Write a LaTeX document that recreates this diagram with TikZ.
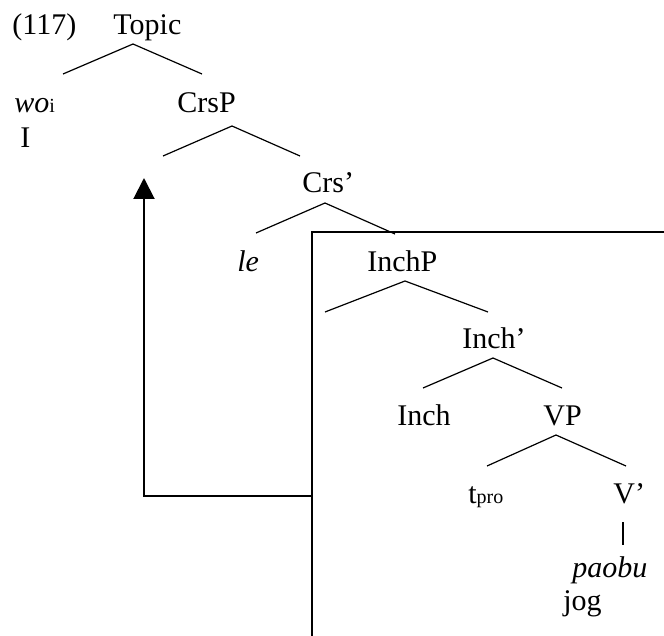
\documentclass[tikz,border=0pt]{standalone}
\usepackage{fontspec}
\setmainfont{Liberation Serif}
\usetikzlibrary{arrows.meta}
\newcommand{\subidx}[1]{{\fontsize{10}{12}\selectfont #1}}

\begin{document}
\begin{tikzpicture}[x=0.5pt,y=-0.5pt,
  lbl/.style={anchor=base west,inner sep=0pt,font=\fontsize{15}{18}\selectfont},
  branch/.style={line width=0.6pt},
  frame/.style={line width=1pt}]
\useasboundingbox (0,0) rectangle (664,636);
% labels
\node[lbl] (num) at (12,35) {(117)};
\node[lbl] (topic) at (113,35) {Topic};
\node[lbl] (wo) at (14,113) {\itshape wo\upshape\subidx{i}};
\node[lbl] (I) at (20,148) {I};
\node[lbl] (crsp) at (177,113) {CrsP};
\node[lbl] (crsbar) at (302,193) {Crs’};
\node[lbl] (le) at (237,272) {\itshape le};
\node[lbl] (inchp) at (367,272) {InchP};
\node[lbl] (inchbar) at (462,349) {Inch’};
\node[lbl] (inch) at (397,425) {Inch};
\node[lbl] (vp) at (543,425) {VP};
\node[lbl] (tpro) at (468,503) {t\subidx{pro}};
\node[lbl] (vbar) at (613,503) {V’};
\node[lbl] (paobu) at (572,577) {\itshape paobu};
\node[lbl] (jog) at (563,610) {jog};
% branch points
\coordinate (topic-a) at (133,44);
\coordinate (topic-l) at (63,74);
\coordinate (topic-r) at (202,74);
\coordinate (crsp-a) at (232,126);
\coordinate (crsp-l) at (163,156);
\coordinate (crsp-r) at (300,156);
\coordinate (crsbar-a) at (325,203);
\coordinate (crsbar-l) at (256,233);
\coordinate (crsbar-r) at (395,234);
\coordinate (inchp-a) at (405,281);
\coordinate (inchp-l) at (325,312);
\coordinate (inchp-r) at (488,312);
\coordinate (inchbar-a) at (493,358);
\coordinate (inchbar-l) at (423,388);
\coordinate (inchbar-r) at (562,388);
\coordinate (vp-a) at (556,435);
\coordinate (vp-l) at (487,466);
\coordinate (vp-r) at (626,466);
\coordinate (vbar-a) at (623,522);
\coordinate (vbar-b) at (623,545);
% tree
\draw[branch] (topic-l) -- (topic-a) -- (topic-r);
\draw[branch] (crsp-l) -- (crsp-a) -- (crsp-r);
\draw[branch] (crsbar-l) -- (crsbar-a) -- (crsbar-r);
\draw[branch] (inchp-l) -- (inchp-a) -- (inchp-r);
\draw[branch] (inchbar-l) -- (inchbar-a) -- (inchbar-r);
\draw[branch] (vp-l) -- (vp-a) -- (vp-r);
\draw[branch] (vbar-a) -- (vbar-b);
% box and movement
\coordinate (box-tl) at (312,232);
\coordinate (box-tr) at (664,232);
\coordinate (box-bl) at (312,636);
\coordinate (trace) at (312,496);
\coordinate (corner) at (144,496);
\coordinate (land) at (144,178);
\draw[frame] (box-tr) -- (box-tl) -- (box-bl);
\draw[frame,-{Triangle[length=10.5pt,width=10.5pt]}] (trace) -- (corner) -- (land);
\end{tikzpicture}
\end{document}
